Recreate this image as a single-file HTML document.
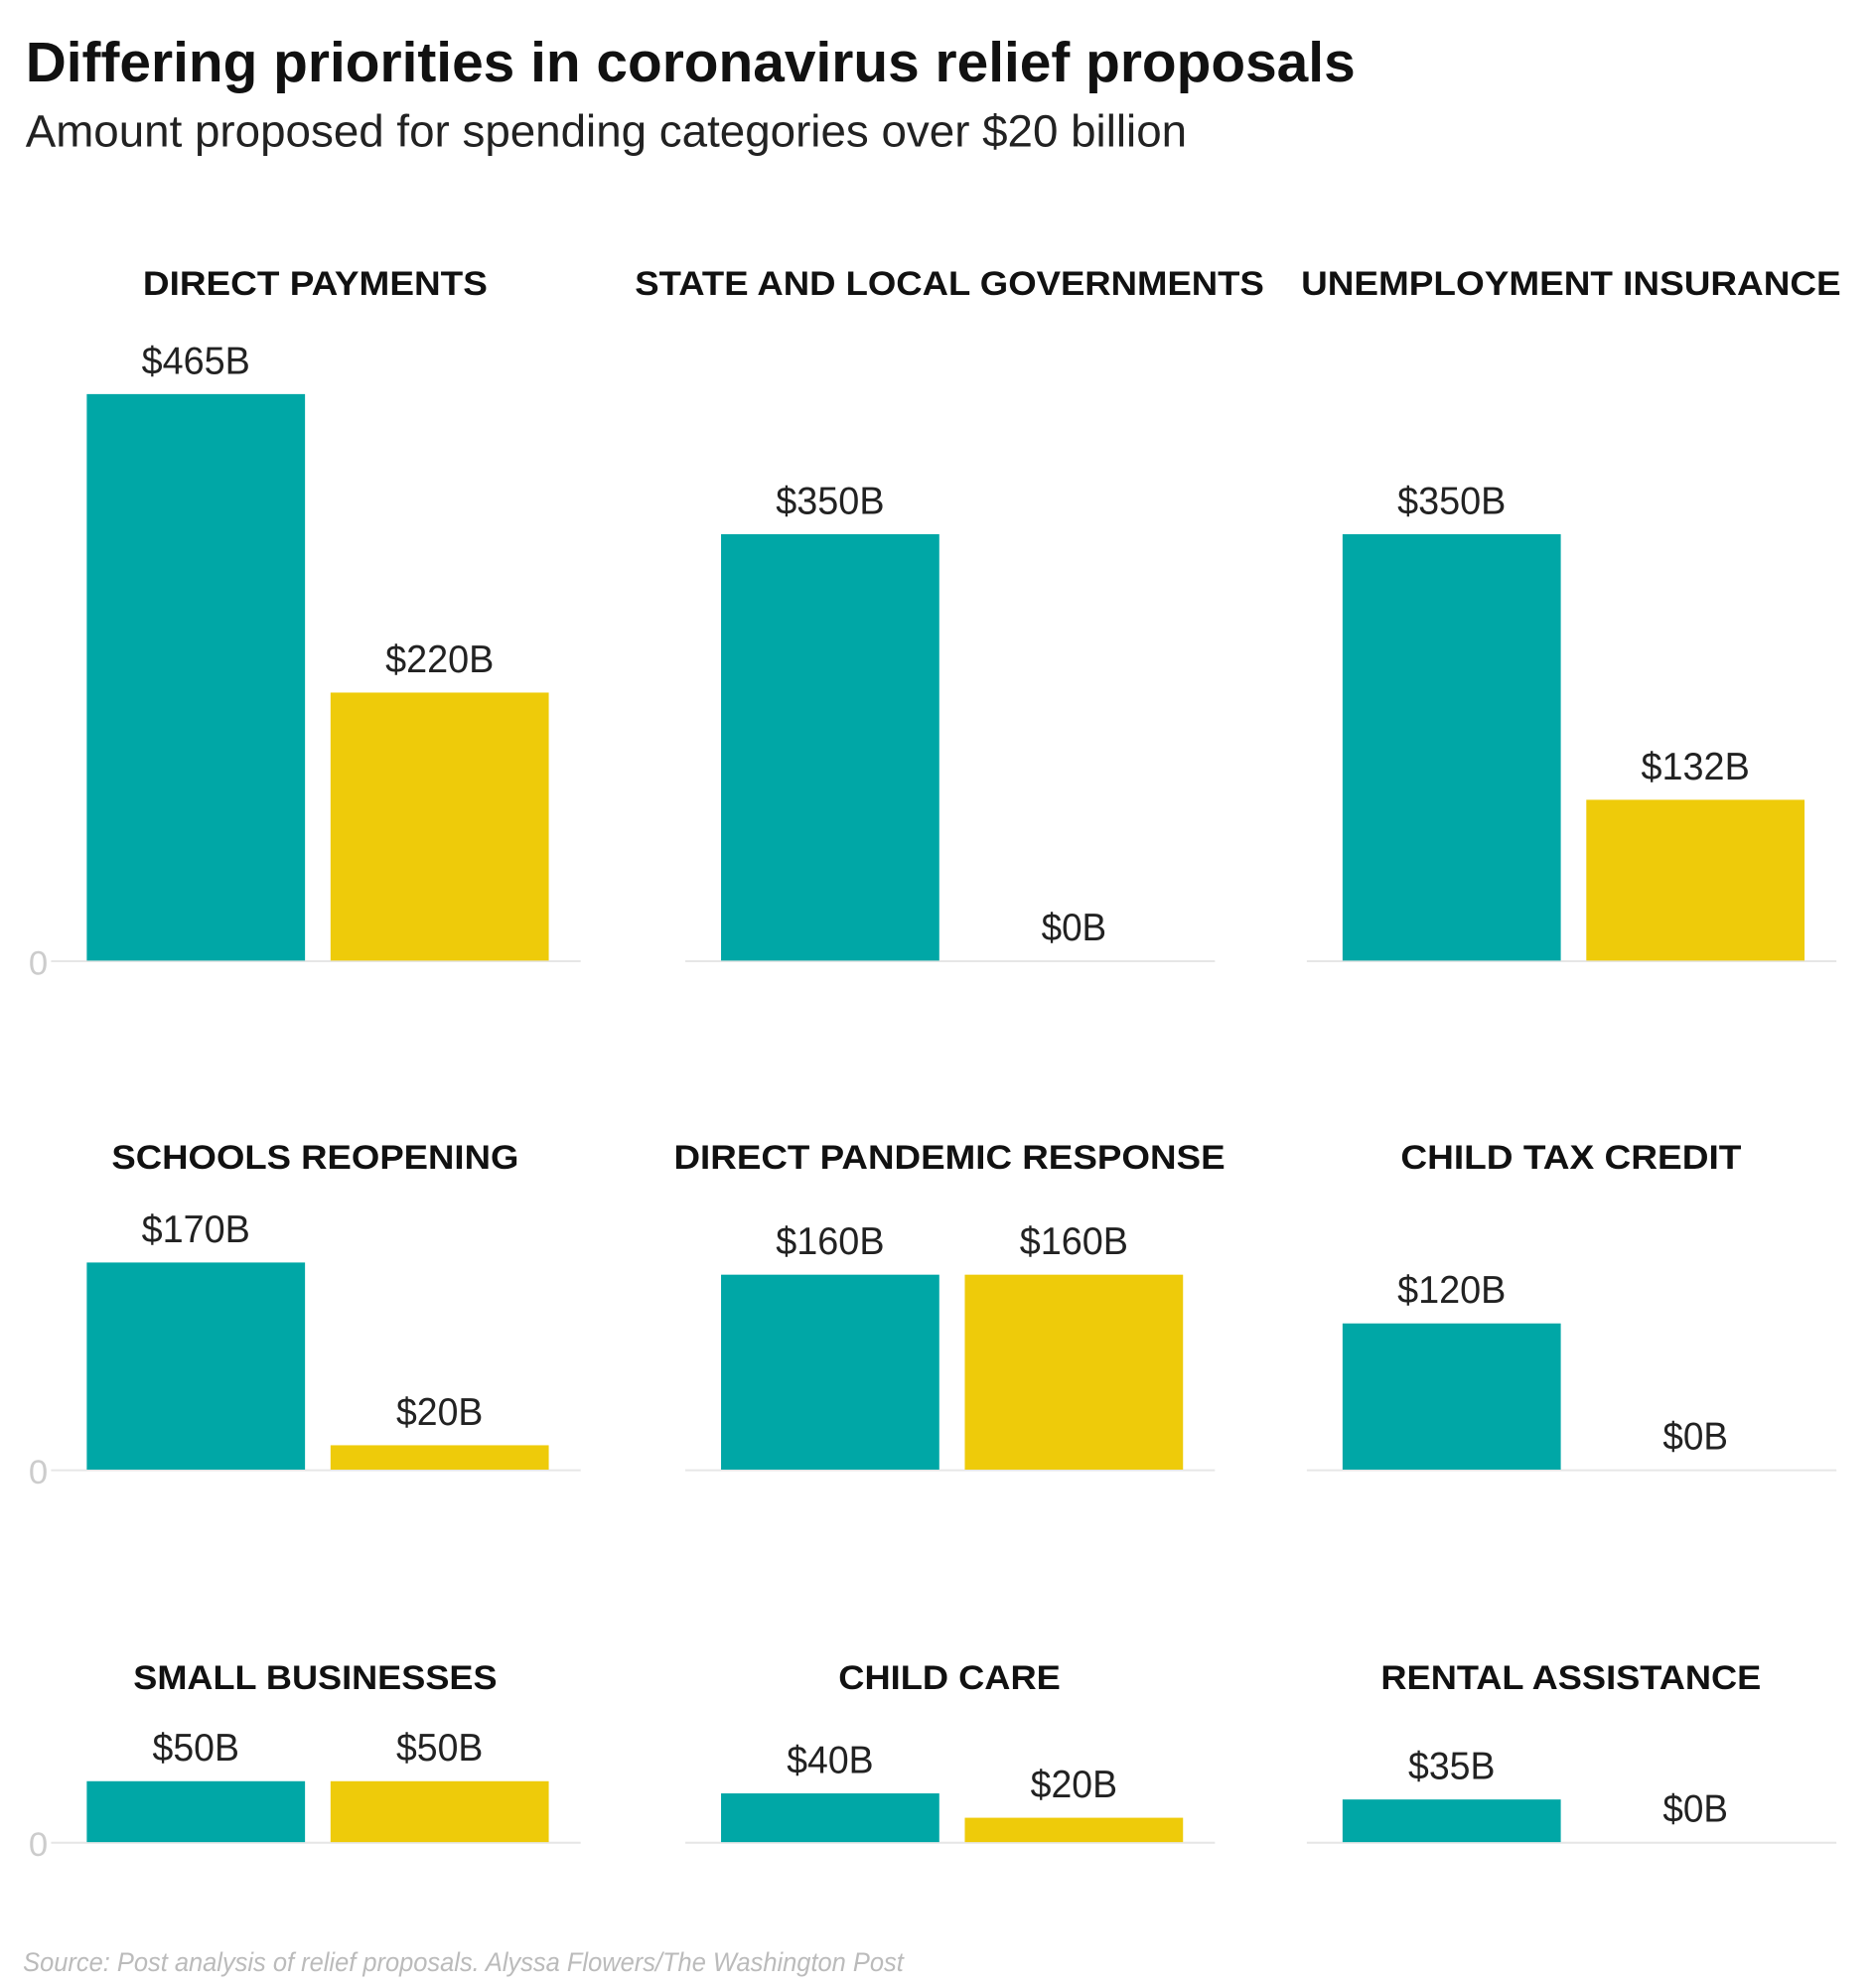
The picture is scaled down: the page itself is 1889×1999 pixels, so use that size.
<!DOCTYPE html>
<html><head><meta charset="utf-8"><style>
html,body{margin:0;padding:0;background:#fff;}
svg{display:block;font-family:"Liberation Sans",sans-serif;}
</style></head><body>
<svg id="chart" width="1889" height="1999" viewBox="0 0 1470 1556" preserveAspectRatio="none" xmlns="http://www.w3.org/2000/svg">
<text x="20" y="64" font-size="44" font-weight="bold" fill="#111" textLength="1042" lengthAdjust="spacingAndGlyphs">Differing priorities in coronavirus relief proposals</text>
<text x="20" y="115" font-size="35" fill="#222" textLength="910" lengthAdjust="spacingAndGlyphs">Amount proposed for spending categories over $20 billion</text>
<text x="18" y="1545" font-size="21" font-style="italic" fill="#bbb" textLength="690" lengthAdjust="spacingAndGlyphs">Source: Post analysis of relief proposals. Alyssa Flowers/The Washington Post</text>
<g id="panels"></g>
</svg>
<script>
const categories = ["DIRECT PAYMENTS","STATE AND LOCAL GOVERNMENTS","UNEMPLOYMENT INSURANCE","SCHOOLS REOPENING","DIRECT PANDEMIC RESPONSE","CHILD TAX CREDIT","SMALL BUSINESSES","CHILD CARE","RENTAL ASSISTANCE"];
const proposalA = [465,350,350,170,160,120,50,40,35];
const proposalB = [220,0,132,20,160,0,50,20,0];
const titleWidths = [270,493,423,319,432,267,285,174,298];

const NS = "http://www.w3.org/2000/svg";
const g = document.getElementById("panels");
const colX = [40,537,1024];
const rowBase = [753,1152,1444];
const rowTitleY = [231,916,1324];
const pxPerB = 0.955;
const yScale = v => v * pxPerB;
function mk(tag, attrs){ const e=document.createElementNS(NS,tag); for(const k in attrs) e.setAttribute(k,attrs[k]); return e; }

categories.forEach((cat,i)=>{
  const r = Math.floor(i/3), c = i%3;
  const x0 = colX[c], base = rowBase[r];
  const panel = mk("g",{});
  
  
  g.appendChild(panel);

  const t = mk("text",{x:x0+207,y:rowTitleY[r],"font-size":27,"font-weight":"bold","text-anchor":"middle",fill:"#111",textLength:titleWidths[i],lengthAdjust:"spacingAndGlyphs"});
  t.textContent = cat;
  
  
  panel.appendChild(t);

  const ax = mk("line",{x1:x0,x2:x0+415,y1:base+0.5,y2:base+0.5,stroke:"#e6e6e6","stroke-width":1.5});
  
  
  panel.appendChild(ax);

  if(c===0){
    const z = mk("text",{x:30,y:base+11,"font-size":27,"text-anchor":"middle",fill:"#ccc"});
    z.textContent = "0";
    
    
    panel.appendChild(z);
  }

  [[proposalA[i],"#00a7a6",x0+28],[proposalB[i],"#eecb0a",x0+219]].forEach(([v,col,bx],j)=>{
    const h = yScale(v);
    const b = mk("rect",{x:bx,y:base-h,width:171,height:h,fill:col});
    
    
    panel.appendChild(b);
    const l = mk("text",{x:bx+85.5,y:base-h-16,"font-size":30,"text-anchor":"middle",fill:"#222",textLength:(String(v).length+2)*17,lengthAdjust:"spacingAndGlyphs"});
    l.textContent = "$"+v+"B";
    
    
    panel.appendChild(l);
  });
});
</script>
</body></html>
